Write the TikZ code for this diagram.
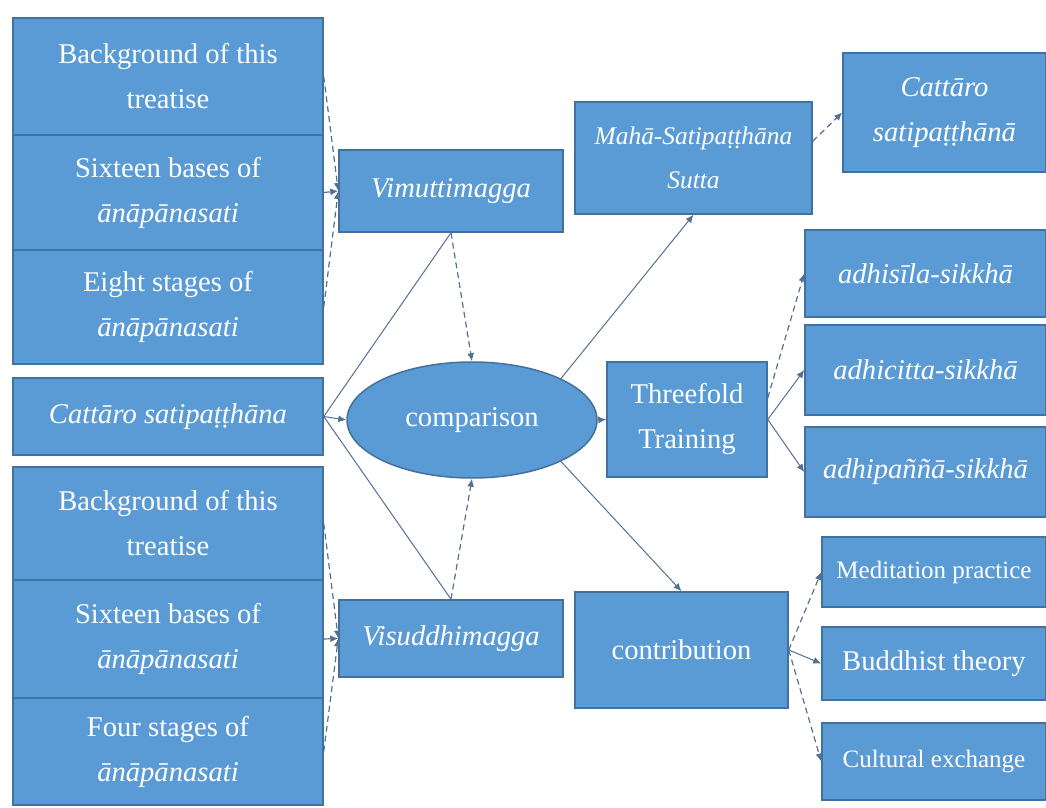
\documentclass[tikz,border=0pt]{standalone}
\usepackage{fontspec}
\setmainfont{Liberation Serif}
\usetikzlibrary{shapes,arrows.meta}
\definecolor{box_blue}{RGB}{91,155,213}
\definecolor{box_edge}{RGB}{65,113,156}
\definecolor{line_blue}{RGB}{84,112,148}
\tikzstyle{bb}=[rectangle,fill=box_blue,draw=box_edge,line width=0.75pt,
  text=white,align=center,inner sep=2pt,font=\fontsize{14.3}{22.5}\selectfont]
\tikzstyle{be}=[ellipse,fill=box_blue,draw=box_edge,line width=0.75pt,
  text=white,inner sep=0pt,font=\fontsize{14.3}{22.5}\selectfont]
\tikzstyle{sm}=[font=\fontsize{12.5}{15}\selectfont]
\tikzstyle{sl}=[line_blue,line width=0.5pt,-{Latex[length=4pt,width=3.5pt]}]
\tikzstyle{dl}=[line_blue,line width=0.6pt,dash pattern=on 3pt off 2pt,
  -{Latex[length=4pt,width=3.5pt]}]

\begin{document}
\begin{tikzpicture}[x=0.5pt,y=-0.5pt]
    \useasboundingbox (0,0) rectangle (1046,808);
    % left column, Vimuttimagga side
    \node [style=bb,minimum width=155pt,minimum height=58.5pt] (bgv) at (168,76.5) {Background of this\\treatise};
    \node [style=bb,minimum width=155pt,minimum height=57.5pt] (basesv) at (168,192.5) {Sixteen bases of\\\textit{ānāpānasati}};
    \node [style=bb,minimum width=155pt,minimum height=57pt] (stagesv) at (168,307) {Eight stages of\\\textit{ānāpānasati}};
    \node [style=bb,minimum width=155pt,minimum height=38.5pt] (catt) at (168,416.5) {\textit{Cattāro satipaṭṭhāna}};
    % left column, Visuddhimagga side
    \node [style=bb,minimum width=155pt,minimum height=56.5pt] (bgs) at (168,523.5) {Background of this\\treatise};
    \node [style=bb,minimum width=155pt,minimum height=59pt] (basess) at (168,639) {Sixteen bases of\\\textit{ānāpānasati}};
    \node [style=bb,minimum width=155pt,minimum height=53.5pt] (stagess) at (168,751.5) {Four stages of\\\textit{ānāpānasati}};
    % middle
    \node [style=bb,minimum width=112pt,minimum height=41pt] (vim) at (451,191) {\textit{Vimuttimagga}};
    \node [style=bb,minimum width=112pt,minimum height=38.5pt] (vis) at (451,638.5) {\textit{Visuddhimagga}};
    \node [style=be,minimum width=125pt,minimum height=58pt] (cmp) at (472,420) {comparison};
    \node [style=bb,font=\fontsize{12.7}{22}\selectfont,minimum width=118.5pt,minimum height=56pt] (maha) at (693.5,158) {\textit{Mahā-Satipaṭṭhāna}\\\textit{Sutta}};
    \node [style=bb,minimum width=80pt,minimum height=57.5pt] (three) at (687,419.5) {Threefold\\Training};
    \node [style=bb,minimum width=106.5pt,minimum height=58pt] (contrib) at (681.5,650) {contribution};
    % right column
    \node [style=bb,minimum width=101.5pt,minimum height=59.5pt] (cattr) at (944.5,112.5) {\textit{Cattāro}\\\textit{satipaṭṭhānā}};
    \node [style=bb,minimum width=120.5pt,minimum height=43.5pt] (sila) at (925.5,273.5) {\textit{adhisīla-sikkhā}};
    \node [style=bb,minimum width=120.5pt,minimum height=45pt] (citta) at (925.5,370) {\textit{adhicitta-sikkhā}};
    \node [style=bb,minimum width=120.5pt,minimum height=45pt] (panna) at (925.5,472) {\textit{adhipaññā-sikkhā}};
    \node [style=bb,style=sm,minimum width=112pt,minimum height=35pt] (med) at (934,572) {Meditation practice};
    \node [style=bb,minimum width=112pt,minimum height=36.5pt] (bud) at (934,663.5) {Buddhist theory};
    \node [style=bb,style=sm,minimum width=112pt,minimum height=38.5pt] (cul) at (934,761.5) {Cultural exchange};
    % connectors
    \draw [style=dl] (bgv.east) to (vim.west);
    \draw [style=dl] (basesv.east) to (vim.west);
    \draw [style=dl] (stagesv.east) to (vim.west);
    \draw [style=dl] (bgs.east) to (vis.west);
    \draw [style=dl] (basess.east) to (vis.west);
    \draw [style=dl] (stagess.east) to (vis.west);
    \draw [style=dl] (vim.south) to (cmp.north);
    \draw [style=dl] (vis.north) to (cmp.south);
    \draw [line_blue,line width=0.5pt] (vim.south) to (catt.east);
    \draw [line_blue,line width=0.5pt] (vis.north) to (catt.east);
    \draw [style=sl] (catt.east) to (cmp.west);
    \draw [style=sl] (cmp.25) to (maha.south);
    \draw [style=sl] (cmp.east) to (three.west);
    \draw [style=sl] (cmp.-25) to (contrib.north);
    \draw [style=dl] (maha.8) to (cattr.west);
    \draw [style=dl] (three.15) to (sila.west);
    \draw [style=sl] (three.east) to (citta.west);
    \draw [style=sl] (three.east) to (panna.west);
    \draw [style=dl] (contrib.east) to (med.west);
    \draw [style=sl] (contrib.east) to (bud.west);
    \draw [style=dl] (contrib.east) to (cul.west);
  \end{tikzpicture}
\end{document}
